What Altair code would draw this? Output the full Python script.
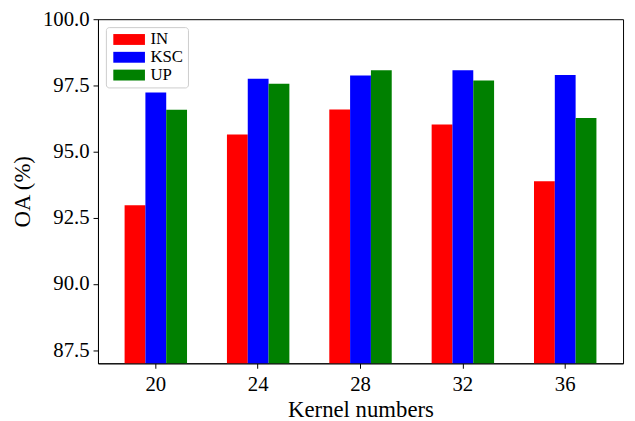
import altair as alt
import pandas as pd

kernels = ["20", "24", "28", "32", "36"]
series = ["IN", "KSC", "UP"]
in_vals = [92.97, 95.64, 96.59, 96.02, 93.88]
ksc_vals = [97.23, 97.75, 97.87, 98.07, 97.89]
up_vals = [96.58, 97.56, 98.07, 97.68, 96.27]
colors = ["#ff0000", "#0000ff", "#008000"]
y_ticks = [87.5, 90.0, 92.5, 95.0, 97.5, 100.0]

rows = []
for name, vals in zip(series, [in_vals, ksc_vals, up_vals]):
    for k, v in zip(kernels, vals):
        rows.append({"kernel": k, "series": name, "oa": v})
df = pd.DataFrame(rows)

font = "Times New Roman, Liberation Serif, serif"

chart = alt.Chart(df).mark_bar(clip=True).encode(
    x=alt.X("kernel:N", sort=kernels, title="Kernel numbers",
            scale=alt.Scale(paddingInner=0.39, paddingOuter=0.26),
            axis=alt.Axis(labelAngle=0, labelFontSize=21, titleFontSize=23,
                          labelFont=font, titleFont=font, labelColor="black",
                          titleColor="black", domainColor="black", tickColor="black",
                          tickSize=5, labelPadding=6, titlePadding=4,
                          titleFontWeight="normal", grid=False)),
    xOffset=alt.XOffset("series:N", sort=series, scale=alt.Scale(paddingInner=0, paddingOuter=0)),
    y=alt.Y("oa:Q", title="OA (%)",
            scale=alt.Scale(domain=[87, 100], nice=False, zero=False),
            axis=alt.Axis(values=y_ticks, format=".1f", labelFontSize=21, titleFontSize=23,
                          labelFont=font, titleFont=font, labelColor="black",
                          titleColor="black", domainColor="black", tickColor="black",
                          tickSize=5, labelPadding=4, titlePadding=8,
                          titleFontWeight="normal", grid=False)),
    color=alt.Color("series:N", sort=series,
                    scale=alt.Scale(domain=series, range=colors),
                    legend=alt.Legend(title=None, orient="top-left", offset=8,
                                      symbolType="M-3.2,-1.1H3.2V1.1H-3.2Z", symbolSize=100,
                                      symbolOffset=11, symbolStrokeWidth=0,
                                      labelFont=font, labelFontSize=17,
                                      labelColor="black", labelOffset=13, rowPadding=0,
                                      padding=4, strokeColor="#cccccc", fillColor="white",
                                      cornerRadius=3)),
).properties(
    width=531, height=348,
    autosize=alt.AutoSizeParams(type="none"),
    padding={"left": 91, "top": 9, "right": 4, "bottom": 56},
).configure_view(stroke="black", strokeWidth=1)

chart.save("out.html", embed_options={"renderer": "svg", "actions": False})
